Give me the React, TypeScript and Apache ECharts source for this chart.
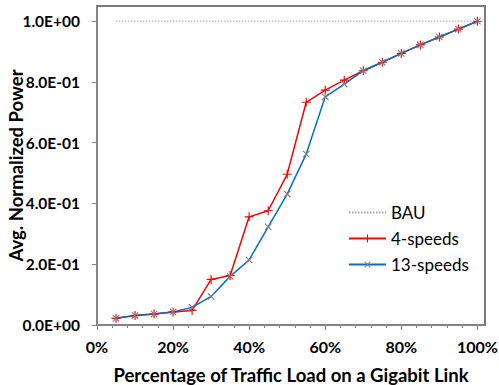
import React, { useEffect, useRef } from "react";
import * as echarts from "echarts";

const loadPct = [0.05, 0.1, 0.15, 0.2, 0.25, 0.3, 0.35, 0.4, 0.45, 0.5, 0.55, 0.6, 0.65, 0.7, 0.75, 0.8, 0.85, 0.9, 0.95, 1.0];
const bau = [1, 1, 1, 1, 1, 1, 1, 1, 1, 1, 1, 1, 1, 1, 1, 1, 1, 1, 1, 1];
const fourSpeeds = [0.022, 0.031, 0.036, 0.043, 0.048, 0.15, 0.163, 0.356, 0.376, 0.496, 0.733, 0.773, 0.806, 0.837, 0.865, 0.894, 0.922, 0.948, 0.974, 1.0];
const thirteenSpeeds = [0.022, 0.031, 0.036, 0.043, 0.058, 0.094, 0.16, 0.214, 0.323, 0.431, 0.5625, 0.751, 0.793, 0.837, 0.865, 0.894, 0.922, 0.948, 0.974, 1.0];
const xTicks = [0, 0.2, 0.4, 0.6, 0.8, 1.0];
const xMinorTicks = [0, 0.04, 0.08, 0.12, 0.16, 0.2, 0.24, 0.28, 0.32, 0.36, 0.4, 0.44, 0.48, 0.52, 0.56, 0.6, 0.64, 0.68, 0.72, 0.76, 0.8, 0.84, 0.88, 0.92, 0.96, 1.0];
const yTicks = [0, 0.2, 0.4, 0.6, 0.8, 1.0];

const pair = (xs: number[], ys: number[]) => xs.map((x, i) => [x, ys[i]]);

const sci = (v: number) => {
  if (v === 0) return "0.0E+00";
  const e = Math.floor(Math.log10(Math.abs(v)) + 1e-9);
  const m = v / Math.pow(10, e);
  const sign = e < 0 ? "-" : "+";
  return `${m.toFixed(1)}E${sign}${String(Math.abs(e)).padStart(2, "0")}`;
};

const PLUS = "path://M7,0H9V7H16V9H9V16H7V9H0V7H7Z";
const FONT = "Lato";

export default function App() {
  const ref = useRef<HTMLDivElement>(null);
  useEffect(() => {
    if (!ref.current) return;
    const chart = echarts.init(ref.current, null, { renderer: "svg" });
    chart.setOption({
      animation: false,
      backgroundColor: "#ffffff",
      grid: {
        left: 97,
        right: 14,
        top: 6,
        bottom: 60,
        containLabel: false,
        outerBoundsMode: "none",
        show: true,
        borderColor: "#7a7a7a",
        borderWidth: 2,
        backgroundColor: "transparent",
      },
      legend: {
        orient: "vertical",
        left: 348,
        top: 204,
        padding: 0,
        itemWidth: 37,
        itemHeight: 10,
        itemGap: 9,
        textStyle: { fontFamily: FONT, fontSize: 17, color: "#000" },
        data: ["BAU", "4-speeds", "13-speeds"],
      },
      xAxis: [
        {
          type: "value",
          min: 0,
          max: 1.02,
          splitLine: { show: false },
          axisLine: { lineStyle: { color: "#868686", width: 1.5 } },
          axisTick: { customValues: xTicks, length: 5, lineStyle: { color: "#868686" } },
          axisLabel: {
            customValues: xTicks,
            formatter: (v: number) => `${Math.round(v * 100)}%`,
            fontFamily: FONT,
            fontWeight: "bold",
            fontSize: 16,
            color: "#000",
            margin: 13,
          },
          name: "Percentage of Traffic Load on a Gigabit Link",
          nameLocation: "middle",
          nameGap: 40,
          nameMoveOverlap: false,
          nameTextStyle: { fontFamily: FONT, fontWeight: "bold", fontSize: 18.5, color: "#000" },
        },
        {
          type: "value",
          min: 0,
          max: 1.02,
          position: "bottom",
          splitLine: { show: false },
          axisLine: { show: false },
          axisTick: { customValues: xMinorTicks, length: 3, lineStyle: { color: "#868686" } },
          axisLabel: { show: false },
        },
      ],
      yAxis: {
        type: "value",
        min: 0,
        max: 1.05,
        splitLine: { show: false },
        axisLine: { show: true, lineStyle: { color: "#868686", width: 1.5 } },
        axisTick: { show: true, customValues: yTicks, length: 5, lineStyle: { color: "#868686" } },
        axisLabel: {
          customValues: yTicks,
          formatter: (v: number) => sci(v),
          fontFamily: FONT,
          fontWeight: "bold",
          fontSize: 15.5,
          color: "#000",
          margin: 17,
        },
        name: "Avg. Normalized Power",
        nameLocation: "middle",
        nameGap: 72,
        nameMoveOverlap: false,
        nameTextStyle: { fontFamily: FONT, fontWeight: "bold", fontSize: 18.5, color: "#000" },
      },
      series: [
        {
          name: "BAU",
          type: "line",
          data: pair(loadPct, bau),
          symbol: "none",
          lineStyle: { color: "#a6a6a6", width: 1, type: [1.5, 1.5] },
          itemStyle: { color: "transparent" },
        },
        {
          name: "4-speeds",
          type: "line",
          data: pair(loadPct, fourSpeeds),
          symbol: PLUS,
          symbolSize: 9,
          lineStyle: { color: "#ff0000", width: 1.5 },
          itemStyle: { color: "#ff0000" },
        },
        {
          name: "13-speeds",
          type: "line",
          data: pair(loadPct, thirteenSpeeds),
          symbol: PLUS,
          symbolRotate: 45,
          symbolSize: 9,
          lineStyle: { color: "#0070c0", width: 1.5 },
          itemStyle: { color: "#7f7f7f" },
        },
      ],
    });
    return () => chart.dispose();
  }, []);
  return <div ref={ref} style={{ width: 499, height: 385, position: "absolute", left: 0, top: 0 }} />;
}
